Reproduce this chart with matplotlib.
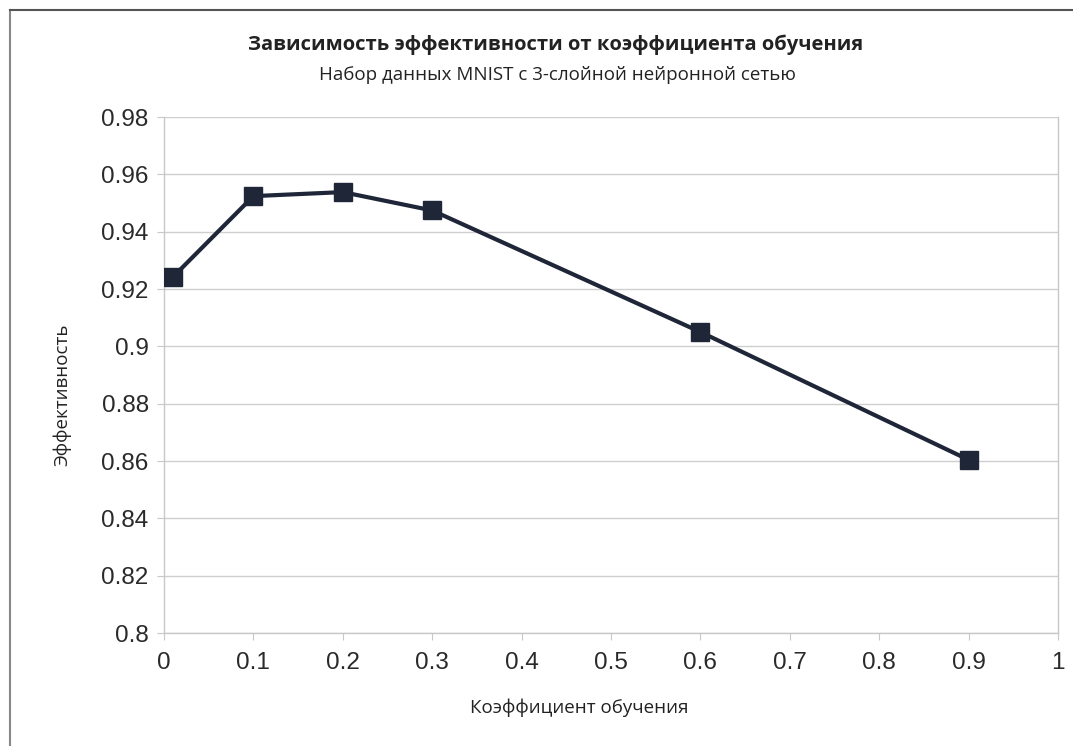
import matplotlib
matplotlib.use("Agg")
import matplotlib.pyplot as plt
from matplotlib.lines import Line2D

learning_rate = [0.01, 0.1, 0.2, 0.3, 0.6, 0.9]
performance = [0.9242, 0.9524, 0.9538, 0.9474, 0.905, 0.8604]
x_ticks = [0, 0.1, 0.2, 0.3, 0.4, 0.5, 0.6, 0.7, 0.8, 0.9, 1]
x_tick_labels = ["0", "0.1", "0.2", "0.3", "0.4", "0.5", "0.6", "0.7", "0.8", "0.9", "1"]
y_ticks = [0.8, 0.82, 0.84, 0.86, 0.88, 0.9, 0.92, 0.94, 0.96, 0.98]
y_tick_labels = ["0.8", "0.82", "0.84", "0.86", "0.88", "0.9", "0.92", "0.94", "0.96", "0.98"]

title = "Зависимость эффективности от коэффициента обучения"
subtitle = "Набор данных MNIST с 3-слойной нейронной сетью"
xlabel = "Коэффициент обучения"
ylabel = "Эффективность"

W, H = 1073, 746
fig = plt.figure(figsize=(W / 100, H / 100), dpi=100)
ax = fig.add_axes([164 / W, 1 - 633 / H, (1058 - 164) / W, (633 - 117) / H])

line_color = "#1e2638"
ax.plot(learning_rate, performance, color=line_color, lw=3, marker="s",
        markersize=13, markerfacecolor=line_color, markeredgecolor=line_color, zorder=3)

ax.set_xlim(0, 1)
ax.set_ylim(0.8, 0.98)
ax.set_xticks(x_ticks)
ax.set_xticklabels(x_tick_labels, fontsize=17.5, family="Liberation Sans", color="#2a2a2a")
ax.set_yticks(y_ticks)
ax.set_yticklabels(y_tick_labels, fontsize=17.5, family="Liberation Sans", color="#2a2a2a")
ax.grid(axis="y", color="#cfcfcf", lw=1)
ax.set_axisbelow(True)

for s in ["left", "right", "bottom", "top"]:
    ax.spines[s].set_color("#c8c8c8")
    ax.spines[s].set_linewidth(1)
ax.spines["top"].set_visible(False)

ax.tick_params(axis="x", direction="out", length=5, color="#c8c8c8", pad=9)
ax.tick_params(axis="y", direction="out", length=5, color="#c8c8c8", pad=6)

fig.text(556 / W, 1 - 45 / H, title, ha="center", va="center", fontsize=14.5,
         family="Open Sans", fontweight="bold", color="#222222")
fig.text(557 / W, 1 - 75 / H, subtitle, ha="center", va="center", fontsize=13.5,
         family="Open Sans", color="#222222")
fig.text(579 / W, 1 - 708 / H, xlabel, ha="center", va="center", fontsize=13.5,
         family="Open Sans", color="#222222")
fig.text(62 / W, 1 - 395 / H, ylabel, ha="center", va="center", fontsize=13.5,
         family="Open Sans", color="#222222", rotation=90)

# outer chart frame
fig.add_artist(Line2D([10 / W, 10 / W], [0, 1 - 10 / H], transform=fig.transFigure,
                      color="#888888", lw=1.5))
fig.add_artist(Line2D([10 / W, 1], [1 - 10 / H, 1 - 10 / H], transform=fig.transFigure,
                      color="#555555", lw=1.5))

fig.savefig("out.png", dpi=100)
